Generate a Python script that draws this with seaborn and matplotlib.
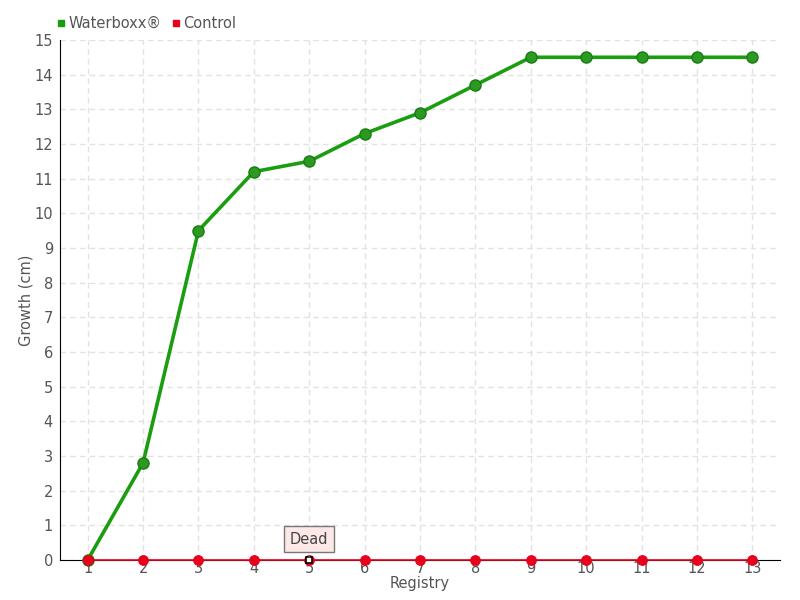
import matplotlib
matplotlib.use("Agg")
import matplotlib.pyplot as plt
import seaborn as sns
import pandas as pd

registry = list(range(1, 14))
waterboxx = [0, 2.8, 9.5, 11.2, 11.5, 12.3, 12.9, 13.7, 14.5, 14.5, 14.5, 14.5, 14.5]
control = [0] * 13
series_names = ["Waterboxx®", "Control"]
colors = ["#1a9e10", "#e8001c"]

sns.set_style("white")
plt.rcParams['font.family'] = ['DejaVu Sans']

df = pd.DataFrame({"Registry": registry * 2,
                   "Growth": waterboxx + control,
                   "Series": [series_names[0]] * 13 + [series_names[1]] * 13})

fig = plt.figure(figsize=(8, 6), dpi=100)
ax = fig.add_axes([0.075, 0.0667, 0.9, 0.8667])

# grid
ax.grid(True, color="#e2e2e2", linestyle=(0, (4, 3)), linewidth=1)
ax.set_axisbelow(True)

sns.lineplot(data=df[df.Series == series_names[0]], x="Registry", y="Growth",
             color=colors[0], linewidth=2.6, marker="o", markersize=8,
             markerfacecolor="#2a9a20", markeredgecolor="#1c7a14", markeredgewidth=1,
             ax=ax, legend=False, zorder=3, clip_on=False)
sns.lineplot(data=df[df.Series == series_names[1]], x="Registry", y="Growth",
             color=colors[1], linewidth=1.2, marker="o", markersize=7,
             markerfacecolor=colors[1], markeredgecolor=colors[1],
             ax=ax, legend=False, zorder=4, clip_on=False)
# highlighted point (Dead) on control at registry 5
ax.plot([registry[4]], [control[4]], marker="s", markersize=5,
        markerfacecolor="white", markeredgecolor="black", markeredgewidth=1.2,
        zorder=6, clip_on=False)

ax.set_xlim(0.5, 13.5)
ax.set_ylim(0, 15)
ax.set_xticks(registry)
ax.set_yticks(range(0, 16))
for s in ["top", "right"]:
    ax.spines[s].set_visible(False)
ax.spines["left"].set_color("black")
ax.spines["bottom"].set_color("black")
ax.spines["bottom"].set_zorder(1)
ax.tick_params(axis="y", direction="inout", length=6, color="black", labelsize=10.5,
               labelcolor="#555555", pad=2)
ax.tick_params(axis="x", length=0, labelsize=10.5, labelcolor="#555555", pad=1)
ax.set_xlabel("Registry", fontsize=10.5, color="#555555", labelpad=0)
ax.set_ylabel("Growth (cm)", fontsize=10.5, color="#555555", labelpad=1)

# tooltip
ax.annotate("Dead", xy=(registry[4], control[4]), xytext=(0, 15), textcoords="offset points",
            ha="center", va="center", fontsize=10.5, color="#444444",
            bbox=dict(boxstyle="square,pad=0.4", fc="#fde8e8", ec="#777777", lw=1),
            arrowprops=dict(arrowstyle="-", color="#777777", lw=0.8), zorder=7)

# legend
from matplotlib.lines import Line2D
handles = [Line2D([], [], marker="s", color="w", markerfacecolor=c, markeredgecolor=c,
                  markersize=5, linestyle="") for c in colors]
fig.legend(handles, series_names, loc="upper left", bbox_to_anchor=(0.053, 0.995),
           ncol=2, frameon=False, fontsize=10.5, handletextpad=0.1, columnspacing=0.6,
           handlelength=0.8, labelcolor="#555555")

fig.savefig("out.png", dpi=100)
